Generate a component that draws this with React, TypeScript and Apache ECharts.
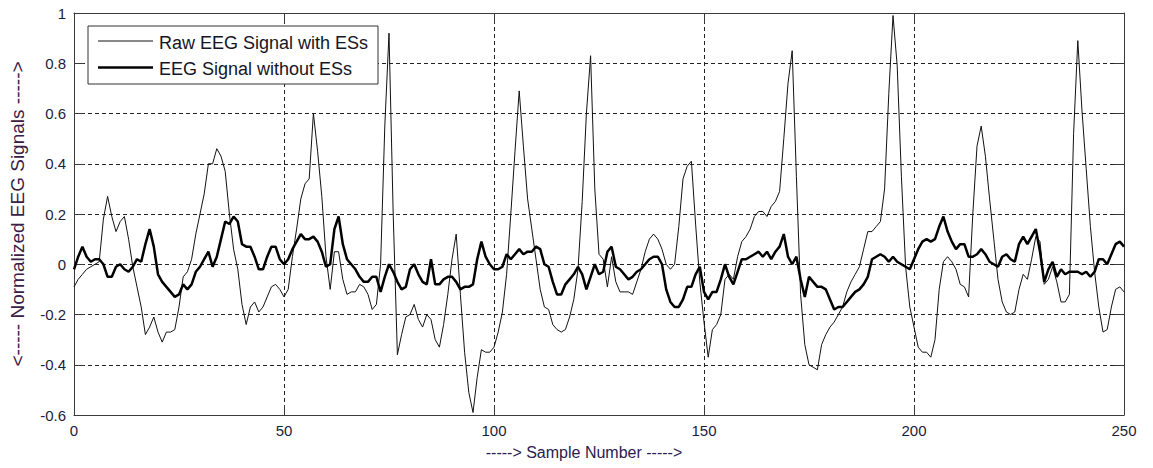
import React, { useEffect, useRef } from "react";
import * as echarts from "echarts";

// Sample numbers 0..250
const sampleNumbers: number[] = Array.from({ length: 251 }, (_, i) => i);

// Raw EEG signal with ESs (thin line)
const rawSignal: number[] = [
  -0.09, -0.06, -0.04, -0.02, -0.01, 0.0, 0.01, 0.18, 0.27, 0.19,
  0.13, 0.17, 0.19, 0.1, -0.01, -0.09, -0.17, -0.28, -0.25, -0.21,
  -0.27, -0.31, -0.27, -0.27, -0.26, -0.17, -0.05, -0.03, 0.02, 0.12,
  0.2, 0.28, 0.4, 0.4, 0.46, 0.43, 0.37, 0.2, 0.06, -0.02,
  -0.16, -0.24, -0.17, -0.15, -0.19, -0.17, -0.13, -0.09, -0.08, -0.1,
  -0.13, -0.1, 0.03, 0.14, 0.26, 0.32, 0.34, 0.6, 0.45, 0.27,
  0.03, -0.1, 0.05, 0.05, -0.06, -0.12, -0.11, -0.11, -0.08, -0.09,
  -0.12, -0.18, -0.16, 0.0, 0.55, 0.92, 0.2, -0.36, -0.28, -0.21,
  -0.2, -0.16, -0.22, -0.25, -0.2, -0.22, -0.3, -0.33, -0.24, -0.12,
  0.02, 0.12, -0.12, -0.35, -0.51, -0.59, -0.45, -0.34, -0.35, -0.35,
  -0.33, -0.27, -0.19, -0.04, 0.2, 0.45, 0.69, 0.47, 0.26, 0.14,
  0.02, -0.1, -0.17, -0.18, -0.24, -0.26, -0.27, -0.26, -0.21, -0.14,
  -0.02, 0.25, 0.6, 0.83, 0.3, 0.04, 0.02, -0.09, 0.03, -0.07,
  -0.11, -0.11, -0.11, -0.12, -0.07, -0.02, 0.05, 0.1, 0.12, 0.1,
  0.06, 0.0, -0.02, 0.0, 0.15, 0.34, 0.39, 0.41, 0.16, -0.07,
  -0.23, -0.37, -0.26, -0.24, -0.2, -0.06, -0.04, -0.06, 0.03, 0.09,
  0.11, 0.14, 0.19, 0.21, 0.21, 0.19, 0.23, 0.25, 0.29, 0.5,
  0.72, 0.85, 0.35, -0.12, -0.32, -0.4, -0.41, -0.42, -0.32, -0.28,
  -0.25, -0.23, -0.2, -0.17, -0.11, -0.07, -0.04, -0.01, 0.06, 0.13,
  0.13, 0.15, 0.17, 0.3, 0.68, 0.99, 0.79, 0.35, -0.01, -0.17,
  -0.25, -0.33, -0.35, -0.35, -0.37, -0.3, -0.1, 0.01, 0.03, 0.01,
  -0.02, -0.08, -0.09, -0.13, 0.2, 0.47, 0.55, 0.43, 0.26, 0.1,
  -0.06, -0.15, -0.19, -0.2, -0.19, -0.1, -0.04, -0.06, 0.02, 0.11,
  0.09, -0.08, -0.06, -0.01, -0.07, -0.15, -0.15, -0.12, 0.52, 0.89,
  0.61, 0.38, 0.15, -0.03, -0.17, -0.27, -0.26, -0.17, -0.1, -0.09,
  -0.11,
];

// EEG signal without ESs (thick line)
const cleanSignal: number[] = [
  -0.02, 0.03, 0.07, 0.03, 0.01, 0.02, 0.02, 0.0, -0.05, -0.05,
  -0.01, 0.0, -0.02, -0.03, -0.01, 0.02, 0.01, 0.08, 0.14, 0.07,
  -0.04, -0.07, -0.09, -0.11, -0.13, -0.12, -0.08, -0.1, -0.08, -0.03,
  -0.01, 0.02, 0.05, -0.01, 0.03, 0.1, 0.17, 0.16, 0.19, 0.17,
  0.08, 0.07, 0.07, 0.03, -0.02, -0.02, 0.03, 0.07, 0.07, 0.02,
  0.0, 0.02, 0.06, 0.09, 0.12, 0.1, 0.1, 0.11, 0.09, 0.05,
  -0.01, 0.0, 0.14, 0.19, 0.08, 0.02, 0.0, -0.02, -0.05, -0.07,
  -0.07, -0.05, -0.05, -0.11, -0.05, 0.0, -0.03, -0.07, -0.1, -0.09,
  -0.02, 0.0, -0.04, -0.07, -0.08, 0.02, -0.08, -0.08, -0.06, -0.05,
  -0.05, -0.07, -0.1, -0.09, -0.09, -0.08, 0.02, 0.09, 0.03, 0.0,
  -0.02, -0.02, -0.01, 0.04, 0.02, 0.04, 0.06, 0.04, 0.05, 0.05,
  0.07, 0.06, 0.0, -0.01, -0.07, -0.12, -0.12, -0.08, -0.06, -0.04,
  -0.01, -0.04, -0.1, -0.05, 0.0, -0.04, -0.03, 0.05, 0.07, -0.01,
  -0.02, -0.04, -0.06, -0.05, -0.03, -0.02, 0.0, 0.02, 0.03, 0.03,
  0.0, -0.1, -0.15, -0.17, -0.17, -0.14, -0.09, -0.09, -0.04, -0.01,
  -0.11, -0.14, -0.11, -0.11, -0.06, 0.0, -0.05, -0.08, -0.03, 0.02,
  0.02, 0.03, 0.04, 0.05, 0.03, 0.05, 0.02, 0.05, 0.07, 0.12,
  0.03, 0.0, 0.03, -0.06, -0.13, -0.05, -0.07, -0.09, -0.09, -0.1,
  -0.14, -0.18, -0.17, -0.17, -0.15, -0.13, -0.11, -0.1, -0.08, -0.05,
  0.02, 0.03, 0.04, 0.03, 0.01, 0.03, 0.01, 0.0, -0.01, -0.02,
  0.02, 0.06, 0.09, 0.1, 0.09, 0.1, 0.15, 0.19, 0.13, 0.09,
  0.06, 0.08, 0.08, 0.03, 0.03, 0.04, 0.06, 0.04, 0.01, 0.0,
  -0.01, 0.03, 0.04, 0.02, 0.01, 0.08, 0.11, 0.08, 0.11, 0.14,
  0.05, -0.07, -0.02, 0.01, -0.05, -0.02, -0.04, -0.03, -0.03, -0.03,
  -0.04, -0.03, -0.05, -0.03, 0.02, 0.02, 0.0, 0.04, 0.08, 0.09,
  0.07,
];

const seriesNames: string[] = ["Raw EEG Signal with ESs", "EEG Signal without ESs"];
const xTitle = "-----> Sample Number ----->";
const yTitle = "<----- Normalized EEG Signals ----->";

const FONT = "'Liberation Sans', Arial, Helvetica, sans-serif";
const AXIS_COLOR = "#3a3a3a";
const LABEL_COLOR = "#1c1c3c";
const RAW_STYLE = { color: "#111", width: 1 };
const CLEAN_STYLE = { color: "#000", width: 2.5 };

export default function App() {
  const ref = useRef<HTMLDivElement>(null);

  useEffect(() => {
    if (!ref.current) return;
    const chart = echarts.init(ref.current, undefined, { renderer: "svg" });

    const axisLine = { show: true, onZero: false, lineStyle: { color: AXIS_COLOR, width: 1 } };
    const axisTick = { show: true, inside: true, length: 10, lineStyle: { color: AXIS_COLOR, width: 1 } };
    const grid = { show: true, lineStyle: { color: "#222", width: 1, type: [4, 3] as any } };

    // Legend box drawn as graphic so the sample lines carry no markers
    const legendX = 88;
    const legendY = 26;
    const legendRows = [41, 67.5];
    const legendStyles = [RAW_STYLE, CLEAN_STYLE];
    const legendGraphic: any[] = [
      {
        type: "rect",
        shape: { x: legendX, y: legendY, width: 290, height: 58 },
        style: { fill: "#fff", stroke: "#333", lineWidth: 1 },
        z: 100,
      },
    ];
    seriesNames.forEach((name, k) => {
      legendGraphic.push({
        type: "line",
        shape: { x1: 98, y1: legendRows[k], x2: 153, y2: legendRows[k] },
        style: { stroke: legendStyles[k].color, lineWidth: legendStyles[k].width },
        z: 101,
      });
      legendGraphic.push({
        type: "text",
        x: 159,
        y: legendRows[k] + 1.5,
        style: {
          text: name,
          fontFamily: FONT,
          fontSize: 18,
          fill: "#151525",
          verticalAlign: "middle",
          align: "left",
        },
        z: 101,
      });
    });

    const option: any = {
      animation: false,
      backgroundColor: "#ffffff",
      textStyle: { fontFamily: FONT },
      grid: { left: 73, top: 13, right: 29, bottom: 53, containLabel: false },
      graphic: legendGraphic,
      xAxis: [
        {
          type: "value",
          min: 0,
          max: 250,
          interval: 50,
          position: "bottom",
          name: xTitle,
          nameLocation: "middle",
          nameGap: 29,
          nameTextStyle: { fontFamily: FONT, fontSize: 16, color: "#2a2050", padding: [0, 30, 0, 0] },
          axisLine,
          axisTick,
          axisLabel: { show: true, margin: 8, fontSize: 15, color: LABEL_COLOR, fontFamily: FONT },
          splitLine: grid,
        },
        {
          type: "value",
          min: 0,
          max: 250,
          interval: 50,
          position: "top",
          axisLine,
          axisTick,
          axisLabel: { show: false },
          splitLine: { show: false },
        },
      ],
      yAxis: [
        {
          type: "value",
          min: -0.6,
          max: 1,
          interval: 0.2,
          position: "left",
          name: yTitle,
          nameLocation: "middle",
          nameGap: 47,
          nameRotate: 90,
          nameTextStyle: { fontFamily: FONT, fontSize: 19, color: "#3a2045" },
          axisLine,
          axisTick,
          axisLabel: {
            show: true,
            margin: 8,
            fontSize: 15,
            color: LABEL_COLOR,
            fontFamily: FONT,
            formatter: (v: number) => String(Math.round(v * 10) / 10),
          },
          splitLine: grid,
        },
        {
          type: "value",
          min: -0.6,
          max: 1,
          interval: 0.2,
          position: "right",
          axisLine,
          axisTick,
          axisLabel: { show: false },
          splitLine: { show: false },
        },
      ],
      series: [
        {
          name: seriesNames[0],
          type: "line",
          xAxisIndex: 0,
          yAxisIndex: 0,
          symbol: "none",
          showSymbol: false,
          lineStyle: RAW_STYLE,
          itemStyle: { color: RAW_STYLE.color },
          data: sampleNumbers.map((x, i) => [x, rawSignal[i]]),
          z: 2,
        },
        {
          name: seriesNames[1],
          type: "line",
          xAxisIndex: 0,
          yAxisIndex: 0,
          symbol: "none",
          showSymbol: false,
          lineStyle: CLEAN_STYLE,
          itemStyle: { color: CLEAN_STYLE.color },
          data: sampleNumbers.map((x, i) => [x, cleanSignal[i]]),
          z: 3,
        },
      ],
    };

    chart.setOption(option);
    return () => {
      chart.dispose();
    };
  }, []);

  return (
    <div
      ref={ref}
      style={{ position: "absolute", left: 0, top: 0, width: 1153, height: 468, background: "#fff" }}
    />
  );
}
